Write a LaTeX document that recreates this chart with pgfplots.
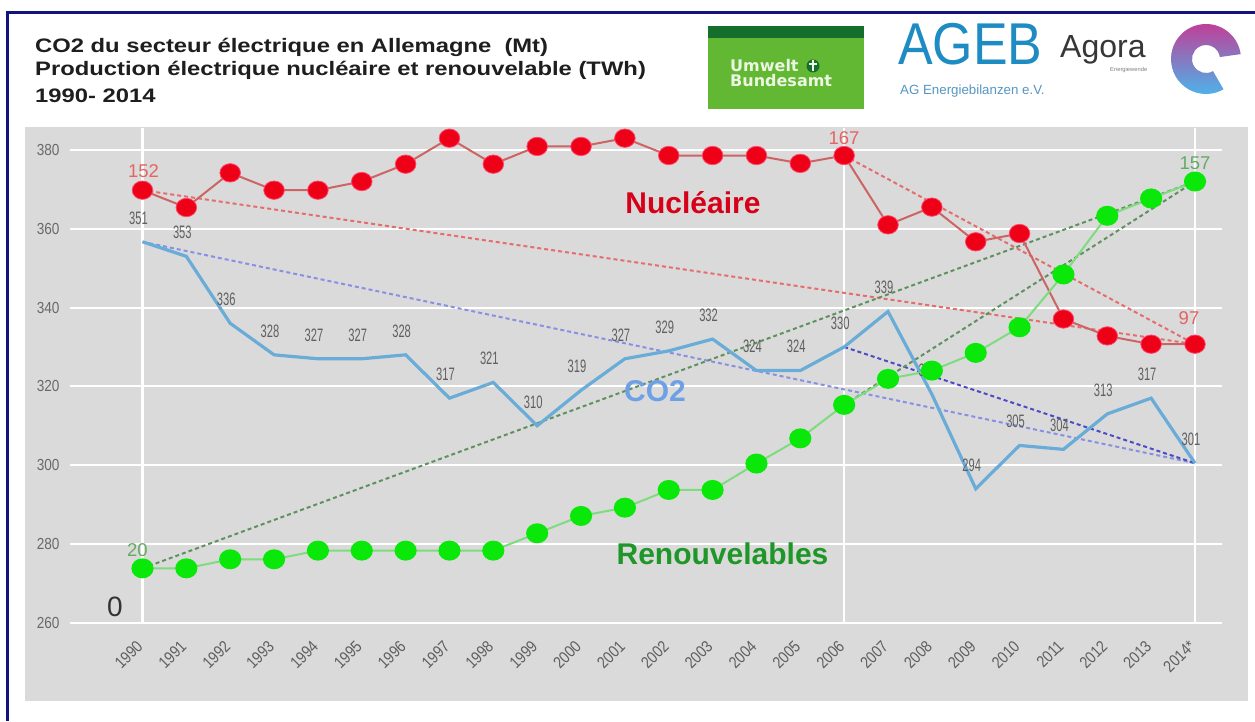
\documentclass[border=0pt]{standalone}
\usepackage{fontspec}
\setmainfont{Liberation Sans}
\newfontfamily\dejavu{DejaVu Sans}
\usepackage{graphicx}
\usepackage{pgfplots}
\pgfplotsset{compat=1.18}
\definecolor{bggray}{RGB}{218,218,218}
\definecolor{navyb}{RGB}{18,18,128}
\definecolor{titlegray}{RGB}{30,30,30}
\definecolor{tickgray}{RGB}{105,105,105}
\definecolor{lblgray}{RGB}{95,95,95}
\definecolor{nucred}{RGB}{238,0,22}
\definecolor{nucedge}{RGB}{255,70,110}
\definecolor{nucline}{RGB}{205,100,100}
\definecolor{nucdash}{RGB}{228,110,110}
\definecolor{nuctext}{RGB}{215,0,25}
\definecolor{nuclbl}{RGB}{228,100,100}
\definecolor{rengreen}{RGB}{10,232,10}
\definecolor{renline}{RGB}{125,220,125}
\definecolor{rendash}{RGB}{95,145,95}
\definecolor{rentext}{RGB}{30,150,40}
\definecolor{renlbl}{RGB}{100,170,100}
\definecolor{co2line}{RGB}{105,172,215}
\definecolor{co2text}{RGB}{110,160,230}
\definecolor{co2dashA}{RGB}{135,145,228}
\definecolor{co2dashB}{RGB}{75,75,195}
\definecolor{ubagreen}{RGB}{98,184,50}
\definecolor{ubadark}{RGB}{22,110,45}
\definecolor{ubatext}{RGB}{236,246,226}
\definecolor{agebblue}{RGB}{30,140,195}
\definecolor{agebsub}{RGB}{85,150,195}
\definecolor{agoragray}{RGB}{55,55,55}
\definecolor{agtop}{RGB}{195,60,150}
\definecolor{agmid}{RGB}{100,65,165}
\definecolor{agbot}{RGB}{75,180,235}
\begin{document}
\begin{tikzpicture}[x=1pt,y=1pt]
\path[use as bounding box, fill=white] (0,0) rectangle (1255,721);
% grey panel
\fill[bggray] (25,20) rectangle (1248,594);
% border (top and left)
\fill[navyb] (6,707) rectangle (1255,710);
\fill[navyb] (6,0) rectangle (9,710);
% title
\node[anchor=base west, inner sep=0, text=titlegray] at (35,668.5) {\scalebox{1.22}[1]{\fontsize{19.5}{20}\selectfont\bfseries CO2 du secteur électrique en Allemagne\ \ (Mt)}};
\node[anchor=base west, inner sep=0, text=titlegray] at (35,645.5) {\scalebox{1.22}[1]{\fontsize{19.5}{20}\selectfont\bfseries Production électrique nucléaire et renouvelable (TWh)}};
\node[anchor=base west, inner sep=0, text=titlegray] at (35,618.5) {\scalebox{1.22}[1]{\fontsize{19.5}{20}\selectfont\bfseries 1990- 2014}};
% Umwelt Bundesamt logo
\fill[ubagreen] (708,612) rectangle (864,695);
\fill[ubadark] (708,683) rectangle (864,695);
\node[anchor=base west, inner sep=0, text=ubatext] at (730,649) {\dejavu\bfseries\fontsize{16}{16}\selectfont Umwelt};
\node[anchor=base west, inner sep=0, text=ubatext] at (730,634) {\dejavu\bfseries\fontsize{16}{16}\selectfont Bundesamt};
\fill[ubadark] (813,655) circle (6.5);
\draw[ubatext, line width=1.2pt] (813,650) -- (813,660.5) (809,657) -- (817,657);
% AGEB logo
\node[anchor=base west, inner sep=0, text=agebblue] at (898,656) {\scalebox{0.88}[1]{\fontsize{59}{59}\selectfont AGEB}};
\node[anchor=base west, inner sep=0, text=agebsub] at (900,626) {\fontsize{13.3}{13.3}\selectfont AG Energiebilanzen e.V.};
% Agora logo
\node[anchor=base west, inner sep=0, text=agoragray] at (1060,663) {\fontsize{32}{32}\selectfont Agora};
\node[anchor=base west, inner sep=0, text=gray] at (1110,649) {\fontsize{5.8}{5.8}\selectfont Energiewende};
\shade[top color=agtop, middle color=agmid, bottom color=agbot]
  ([shift={(1206,662)}]8:35) arc[start angle=8, end angle=300, radius=35]
  -- ([shift={(1206,662)}]300:14) arc[start angle=300, end angle=8, radius=14] -- cycle;
% axis
\begin{axis}[
  at={(70pt,98.3pt)}, anchor=south west,
  width=1152pt, height=494.7pt, scale only axis,
  xmin=-1.653, xmax=24.616, ymin=260, ymax=385.585,
  axis line style={draw=none},
  major tick length=0pt,
  ytick={260,280,300,320,340,360,380},
  xtick={0,...,24},
  ymajorgrids,
  major grid style={white, line width=2pt},
  extra x ticks={0,16,24},
  extra x tick style={grid=major, xticklabel={}, major grid style={white, line width=2.5pt}},
  /pgf/number format/assume math mode=true,
  yticklabel={\scalebox{0.85}[1]{\pgfmathprintnumber{\tick}}},
  yticklabel style={font=\fontsize{16}{16}\selectfont, text=tickgray, xshift=-7pt},
  xticklabel={\pgfmathtruncatemacro\yr{1990+\tick}\scalebox{0.85}[1]{\yr\ifnum\yr=2014 *\fi}},
  xticklabel style={yshift=-20pt, xshift=-2pt, rotate=45, anchor=east, inner sep=1pt, font=\fontsize{16.5}{16.5}\selectfont, text=lblgray},
  clip=false,
]
% trend lines
\addplot[nucdash, line width=2pt, dash pattern=on 4pt off 3pt, no markers] coordinates {(0,369.8) (24,330.7)};
\addplot[nucdash, line width=2pt, dash pattern=on 4pt off 3pt, no markers] coordinates {(16,378.6) (24,330.7)};
\addplot[co2dashA, line width=2pt, dash pattern=on 4pt off 3pt, no markers] coordinates {(0,356.7) (24,300.5)};
\addplot[co2dashB, line width=2pt, dash pattern=on 4pt off 3pt, no markers] coordinates {(16,330) (24,300.5)};
\addplot[rendash, line width=2pt, dash pattern=on 4pt off 3pt, no markers] coordinates {(0,273.8) (24,372.0)};
\addplot[rendash, line width=2pt, dash pattern=on 4pt off 3pt, no markers] coordinates {(16,315.3) (24,372.0)};
% CO2
\addplot[co2line, line width=3.2pt, no markers,
  nodes near coords={\scalebox{0.62}[1]{\pgfplotspointmeta}},
  point meta=explicit symbolic,
  every node near coord/.append style={font=\fontsize{18}{18}\selectfont, text=lblgray, yshift=12.5pt, xshift=-4pt}]
  table[meta=lab] {
x y lab
0 356.7 351
1 353 353
2 336 336
3 328 328
4 327 327
5 327 327
6 328 328
7 317 317
8 321 321
9 310 310
10 319 319
11 327 327
12 329 329
13 332 332
14 324 324
15 324 324
16 330 330
17 339 339
18 318 319
19 294 294
20 305 305
21 304 304
22 313 313
23 317 317
24 300.5 301
};
% nuclear
\addplot[nucline, line width=2pt, mark=*, mark size=9.2pt,
  mark options={xscale=1.12, fill=nucred, draw=nucedge, line width=0.8pt, solid}]
  table {
x y
0 369.8
1 365.4
2 374.2
3 369.8
4 369.8
5 372.0
6 376.4
7 383.0
8 376.4
9 380.9
10 380.9
11 383.0
12 378.6
13 378.6
14 378.6
15 376.6
16 378.6
17 361.0
18 365.5
19 356.7
20 358.8
21 337.1
22 332.8
23 330.7
24 330.7
};
% renewables
\addplot[renline, line width=2pt, mark=*, mark size=9pt,
  mark options={xscale=1.12, fill=rengreen, draw=rengreen, solid}]
  table {
x y
0 273.8
1 273.8
2 276.1
3 276.1
4 278.3
5 278.3
6 278.3
7 278.3
8 278.3
9 282.7
10 287.1
11 289.2
12 293.7
13 293.7
14 300.4
15 306.8
16 315.3
17 321.9
18 324.0
19 328.5
20 335.0
21 348.4
22 363.3
23 367.7
24 372.0
};
\end{axis}
% annotations
\node[anchor=base, inner sep=0, text=nuctext] at (693,507.7) {\fontsize{30}{30}\selectfont\bfseries Nucléaire};
\node[anchor=base, inner sep=0, text=co2text] at (655,319.3) {\fontsize{30}{30}\selectfont\bfseries CO2};
\node[anchor=base, inner sep=0, text=rentext] at (722.5,157) {\fontsize{30}{30}\selectfont\bfseries Renouvelables};
\node[anchor=base, inner sep=0, text=nuclbl] at (143.5,543) {\fontsize{18.5}{18.5}\selectfont 152};
\node[anchor=base, inner sep=0, text=nuclbl] at (844,576) {\fontsize{18.5}{18.5}\selectfont 167};
\node[anchor=base, inner sep=0, text=nuclbl] at (1189,396) {\fontsize{18.5}{18.5}\selectfont 97};
\node[anchor=base, inner sep=0, text=renlbl] at (137.5,164.3) {\fontsize{18.5}{18.5}\selectfont 20};
\node[anchor=base, inner sep=0, text=renlbl] at (1195,551) {\fontsize{18.5}{18.5}\selectfont 157};
\node[inner sep=0, text=black!80] at (115,114.3) {\fontsize{28}{28}\selectfont 0};
\end{tikzpicture}
\end{document}
